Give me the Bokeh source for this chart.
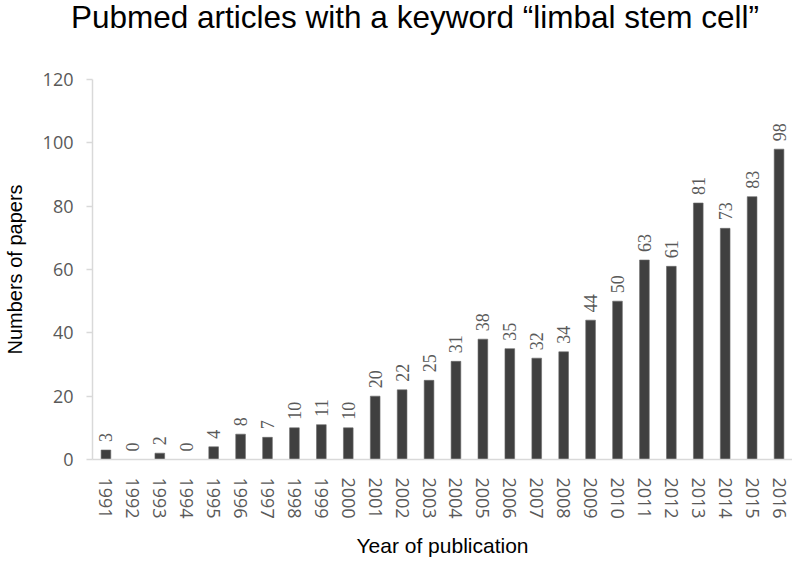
import math
from bokeh.plotting import figure
from bokeh.models import ColumnDataSource, LabelSet, FactorRange, Div
from bokeh.layouts import column
from bokeh.embed import file_html
from bokeh.resources import INLINE

years = [str(y) for y in range(1991, 2017)]
papers = [3, 0, 2, 0, 4, 8, 7, 10, 11, 10, 20, 22, 25, 31, 38, 35, 32, 34, 44, 50, 63, 61, 81, 73, 83, 98]
y_ticks = [0, 20, 40, 60, 80, 100, 120]

title_text = "Pubmed articles with a keyword \u201climbal stem cell\u201d"
x_label = "Year of publication"
y_label = "Numbers of papers"

TICK_FONT = "Open Sans"
GRAY = "#595959"
AXIS = "#d9d9d9"

TITLE_H = 36

src = ColumnDataSource(dict(year=years, n=papers, lbl=[str(v) for v in papers]))

title_div = Div(text=title_text, width=792, height=TITLE_H, margin=(0, 0, 0, 0),
                styles={"font-family": "Liberation Sans, Arial, sans-serif", "font-size": "31.5px",
                        "line-height": "35px", "color": "#000000", "white-space": "nowrap",
                        "text-indent": "71px"})

p = figure(width=792, height=559 - TITLE_H, x_range=FactorRange(*years, range_padding=0),
           y_range=(0, 120), output_backend="svg", toolbar_location=None,
           min_border_left=90, min_border_right=0, min_border_top=79 - TITLE_H, min_border_bottom=99)
p.title = None

p.vbar(x="year", top="n", width=0.36, source=src, fill_color="#404040", line_color="#6a6a6a", line_width=0.6)

labels = LabelSet(x="year", y="n", text="lbl", source=src, angle=math.pi / 2, y_offset=8,
                  text_align="left", text_baseline="middle", text_font=TICK_FONT,
                  text_font_size="18px", text_color=GRAY)
p.add_layout(labels)

p.xgrid.grid_line_color = None
p.ygrid.grid_line_color = None
p.outline_line_color = None

p.yaxis.ticker = y_ticks
p.yaxis.axis_line_color = AXIS
p.yaxis.axis_line_width = 1.5
p.yaxis.major_tick_line_color = AXIS
p.yaxis.major_tick_line_width = 1.5
p.yaxis.major_tick_out = 6
p.yaxis.major_tick_in = 0
p.yaxis.minor_tick_line_color = None
p.yaxis.major_label_standoff = 13
p.yaxis.major_label_text_font = TICK_FONT
p.yaxis.major_label_text_font_size = "18px"
p.yaxis.major_label_text_color = GRAY
p.yaxis.axis_label = y_label
p.yaxis.axis_label_text_font = "Liberation Sans"
p.yaxis.axis_label_text_font_size = "20px"
p.yaxis.axis_label_text_font_style = "normal"
p.yaxis.axis_label_text_color = "#000000"
p.yaxis.axis_label_standoff = 14

p.xaxis.axis_line_color = AXIS
p.xaxis.axis_line_width = 1.5
p.xaxis.major_tick_line_color = None
p.xaxis.minor_tick_line_color = None
p.xaxis.major_label_orientation = "vertical"
p.xaxis.major_label_standoff = 12
p.xaxis.major_label_text_font = TICK_FONT
p.xaxis.major_label_text_font_size = "18px"
p.xaxis.major_label_text_color = GRAY
p.xaxis.axis_label = x_label
p.xaxis.axis_label_text_font = "Liberation Sans"
p.xaxis.axis_label_text_font_size = "21px"
p.xaxis.axis_label_text_font_style = "normal"
p.xaxis.axis_label_text_color = "#000000"
p.xaxis.axis_label_standoff = 12

layout = column(title_div, p, spacing=0)
open("out.html", "w").write(file_html(layout, INLINE))
